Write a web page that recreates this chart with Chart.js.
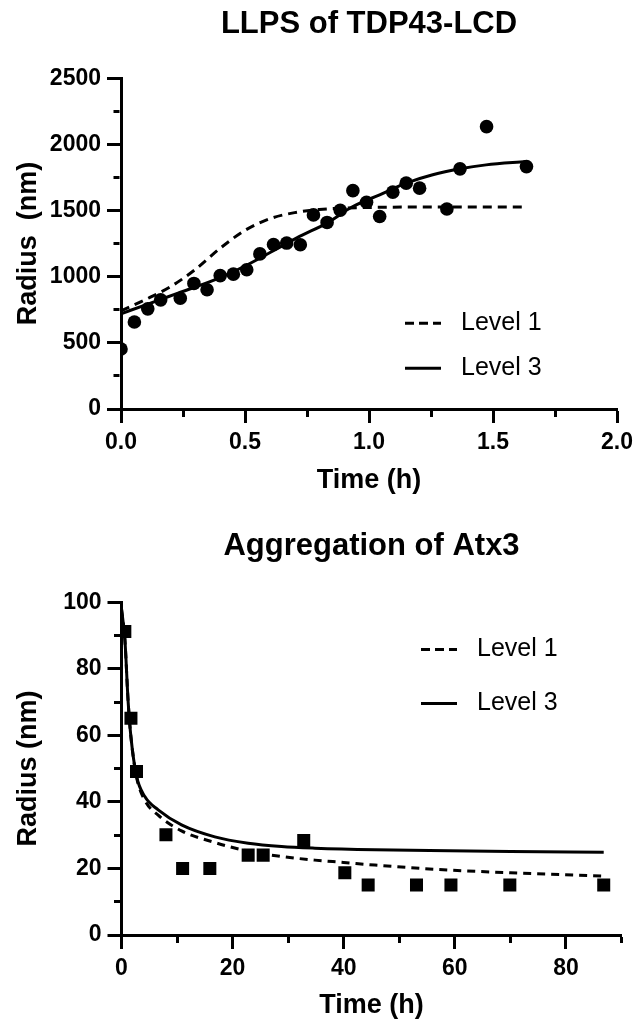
<!DOCTYPE html>
<html>
<head>
<meta charset="utf-8">
<script src="https://cdn.jsdelivr.net/npm/chart.js@4.4.1/dist/chart.umd.min.js"></script>
<style>
  body { margin: 0; background: #fff; }
  canvas { position: absolute; left: 0; }
</style>
</head>
<body>
<canvas id="chart_1" width="639" height="510" style="top:0"></canvas>
<canvas id="chart_2" width="639" height="512" style="top:510px"></canvas>
<script>
// --- LLPS of TDP43-LCD ---
const tdpTime = [0, 0.054, 0.108, 0.16, 0.239, 0.294, 0.347, 0.4, 0.453, 0.507, 0.56, 0.615, 0.668, 0.723,
  0.776, 0.831, 0.884, 0.935, 0.99, 1.043, 1.096, 1.15, 1.204, 1.314, 1.367, 1.474, 1.635];
const tdpRadius = [453, 657, 757, 825, 837, 949, 901, 1008, 1019, 1052, 1172, 1243, 1254, 1241,
  1467, 1410, 1502, 1650, 1562, 1455, 1639, 1707, 1669, 1511, 1815, 2134, 1832];
const tdpL1Time = [0, 0.1, 0.2, 0.3, 0.4, 0.5, 0.6, 0.7, 0.8, 0.9, 1.0, 1.2, 1.64];
const tdpL1Radius = [742, 828, 925, 1055, 1215, 1350, 1438, 1484, 1508, 1518, 1523, 1526, 1526];
const tdpL3Time = [0, 0.1, 0.23, 0.38, 0.51, 0.65, 0.72, 0.83, 0.935, 1.043, 1.15, 1.257, 1.367, 1.472, 1.633];
const tdpL3Radius = [720, 787, 876, 977, 1090, 1233, 1304, 1405, 1530, 1619, 1707, 1770, 1815, 1845, 1870];

// --- Aggregation of Atx3 ---
const atxTime = [0.6, 1.7, 2.7, 8.0, 11.0, 15.9, 22.8, 25.5, 32.8, 40.2, 44.4, 53.1, 59.3, 69.9, 86.8];
const atxRadius = [91.2, 65.1, 49.1, 30.1, 20.0, 20.0, 24.0, 24.0, 28.4, 18.7, 15.0, 15.0, 15.0, 15.0, 15.0];
const atxL1Time = [0, 0.6, 1.2, 1.7, 2.7, 4.2, 6.6, 10.8, 16.8, 22.8, 28.8, 34.8, 40, 45.6, 59, 70, 86.8];
const atxL1Radius = [98, 89, 70, 59.5, 47.5, 40.5, 36, 31.3, 27.8, 25.2, 23.6, 22.5, 21.8, 21.0, 19.5, 18.7, 17.7];
const atxL3Time = [0, 0.6, 1.2, 1.7, 2.7, 4.2, 6.6, 10.8, 16.8, 22.8, 28.8, 34.8, 45.6, 59, 70, 86.8];
const atxL3Radius = [98, 89, 70, 59.5, 47.8, 41.6, 37.6, 33.1, 29.5, 27.6, 26.6, 26.1, 25.6, 25.3, 25.1, 24.9];

const FONT = "'Liberation Sans', Arial, sans-serif";
Chart.defaults.font.family = FONT;
Chart.defaults.color = '#000';

const pts = (xs, ys) => xs.map((x, i) => ({ x, y: ys[i] }));

// legend drawn inside the plot, like the original
const lineKey = {
  id: 'lineKey',
  afterDatasetsDraw(chart, args, opts) {
    const { ctx, chartArea } = chart;
    ctx.save();
    chart.data.datasets.forEach(ds => {
      if (ds.keyRow === undefined) return;
      const x = chartArea.left + opts.left;
      const y = chartArea.top + opts.top + ds.keyRow * opts.gap;
      ctx.beginPath();
      ctx.setLineDash(ds.keyDash || []);
      ctx.lineWidth = 3;
      ctx.strokeStyle = '#000';
      ctx.moveTo(x, y);
      ctx.lineTo(x + 36, y);
      ctx.stroke();
      ctx.setLineDash([]);
      ctx.font = '25px ' + FONT;
      ctx.fillStyle = '#000';
      ctx.textBaseline = 'middle';
      ctx.fillText(ds.label, x + 56, y);
    });
    ctx.restore();
  }
};

function axis(opts) {
  const isMajor = v => Math.abs(v / opts.major - Math.round(v / opts.major)) < 1e-9;
  return {
    type: 'linear',
    min: opts.min,
    max: opts.max,
    ticks: {
      stepSize: opts.step,
      autoSkip: false,
      maxRotation: 0,
      padding: opts.tickPad,
      font: { size: 23, weight: 'bold' },
      color: '#000',
      callback: v => isMajor(v) ? (opts.fmt ? opts.fmt(v) : String(v)) : ''
    },
    grid: {
      drawOnChartArea: false,
      drawTicks: true,
      tickLength: 14,
      tickWidth: 3,
      tickColor: '#000',
      tickBorderDash: c => (c.tick && !isMajor(c.tick.value)) ? opts.minorDash : []
    },
    border: { display: true, color: '#000', width: 3 },
    title: {
      display: true,
      text: opts.title,
      font: { size: 27, weight: 'bold' },
      color: '#000',
      padding: opts.titlePad
    },
    afterFit: opts.fit
  };
}

function curve(label, xs, ys, dash, row) {
  return {
    label,
    data: pts(xs, ys),
    showLine: true,
    borderColor: '#000',
    backgroundColor: '#000',
    borderWidth: 3,
    borderDash: dash,
    keyDash: dash.length ? [9, 5] : [],
    keyRow: row,
    pointRadius: 0,
    cubicInterpolationMode: 'monotone',
    fill: false
  };
}

const chart_1 = new Chart(document.getElementById('chart_1'), {
  type: 'scatter',
  data: {
    datasets: [
      curve('Level 1', tdpL1Time, tdpL1Radius, [9, 6], 0),
      curve('Level 3', tdpL3Time, tdpL3Radius, [], 1),
      {
        label: 'data',
        data: pts(tdpTime, tdpRadius),
        pointStyle: 'circle',
        pointRadius: 6.8,
        pointBorderWidth: 0,
        backgroundColor: '#000',
        borderColor: '#000'
      }
    ]
  },
  options: {
    responsive: false,
    animation: false,
    layout: { padding: { left: 0, right: 21, top: 0, bottom: 0 } },
    plugins: {
      legend: { display: false },
      tooltip: { enabled: false },
      title: {
        display: true,
        fullSize: false,
        text: 'LLPS of TDP43-LCD',
        font: { size: 31, weight: 'bold' },
        color: '#000',
        padding: { top: 6, bottom: 35 }
      },
      lineKey: { left: 284, top: 245, gap: 45 }
    },
    scales: {
      x: axis({ min: 0, max: 2, step: 0.25, major: 0.5, tickPad: 6, fmt: v => v.toFixed(1),
        minorDash: [6, 100], title: 'Time (h)', titlePad: { top: 0, bottom: 13 },
        fit: s => { s.height = 101; } }),
      y: axis({ min: 0, max: 2500, step: 250, major: 500, tickPad: 6,
        minorDash: [0, 6.5, 6, 100], title: 'Radius  (nm)', titlePad: { top: 12, bottom: 0 },
        fit: s => { s.width = 121; } })
    }
  },
  plugins: [lineKey]
});

const chart_2 = new Chart(document.getElementById('chart_2'), {
  type: 'scatter',
  data: {
    datasets: [
      curve('Level 1', atxL1Time, atxL1Radius, [8, 6], 0),
      curve('Level 3', atxL3Time, atxL3Radius, [], 1),
      {
        label: 'data',
        data: pts(atxTime, atxRadius),
        pointStyle: 'rect',
        pointRadius: 9.2,
        pointBorderWidth: 0,
        backgroundColor: '#000',
        borderColor: '#000'
      }
    ]
  },
  options: {
    responsive: false,
    animation: false,
    layout: { padding: { left: 0, right: 17.5, top: 0, bottom: 0 } },
    plugins: {
      legend: { display: false },
      tooltip: { enabled: false },
      title: {
        display: true,
        fullSize: false,
        text: 'Aggregation of Atx3',
        font: { size: 31, weight: 'bold' },
        color: '#000',
        padding: { top: 18, bottom: 37 }
      },
      lineKey: { left: 299.5, top: 47.3, gap: 54 }
    },
    scales: {
      x: axis({ min: 0, max: 90, step: 10, major: 20, tickPad: 6,
        minorDash: [6, 100], title: 'Time (h)', titlePad: { top: 0, bottom: 0 },
        fit: s => { s.height = 87; } }),
      y: axis({ min: 0, max: 100, step: 10, major: 20, tickPad: 6,
        minorDash: [0, 6.5, 6, 100], title: 'Radius (nm)', titlePad: { top: 12, bottom: 0 },
        fit: s => { s.width = 121.5; } })
    }
  },
  plugins: [lineKey]
});
</script>
</body>
</html>
